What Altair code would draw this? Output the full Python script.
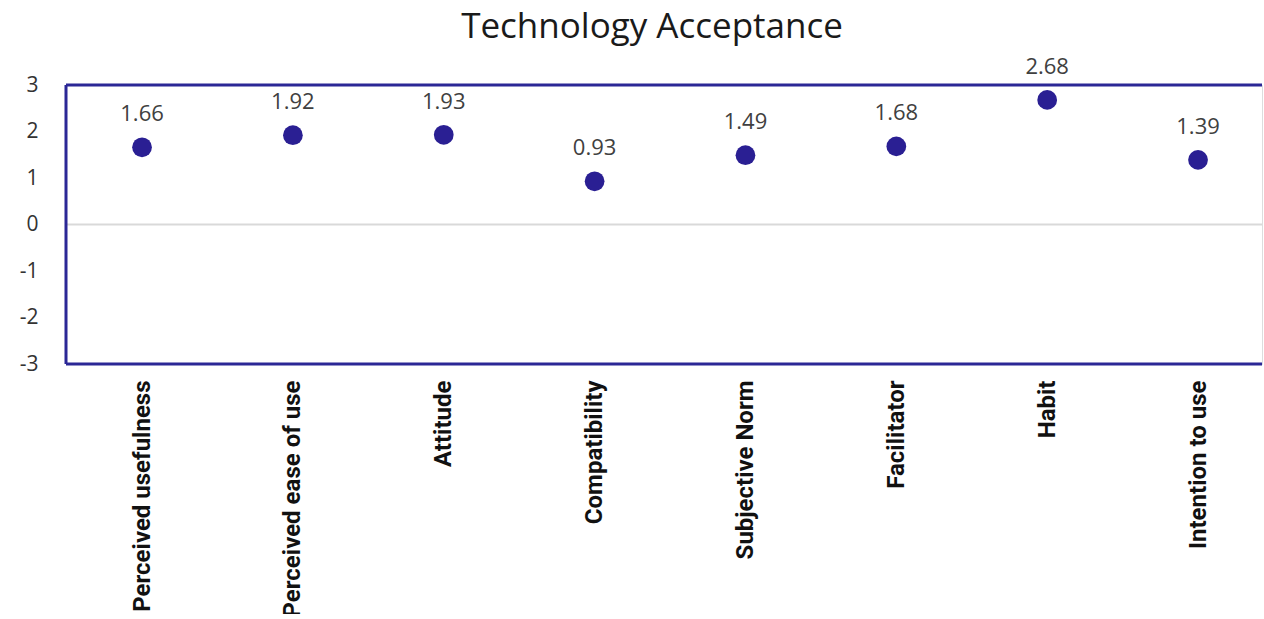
import altair as alt
import pandas as pd

categories = ["Perceived usefulness", "Perceived ease of use", "Attitude", "Compatibility",
              "Subjective Norm", "Facilitator", "Habit", "Intention to use"]
values = [1.66, 1.92, 1.93, 0.93, 1.49, 1.68, 2.68, 1.39]
y_ticks = [-3, -2, -1, 0, 1, 2, 3]

df = pd.DataFrame({"idx": list(range(len(categories))), "cat": categories, "val": values})

X_MIN, X_MAX = -0.504, 7.424
label_expr = "[" + ",".join("'" + c + "'" for c in categories) + "][datum.value]"

xs = alt.Scale(domain=[X_MIN, X_MAX], nice=False, zero=False)
ys = alt.Scale(domain=[-3, 3], nice=False, zero=False)

NAVY = "#2b2796"
PT = "#2a1f93"

base = alt.Chart(df)

points = base.mark_circle(size=390, color=PT, opacity=1).encode(
    x=alt.X("idx:Q", scale=xs, title=None,
            axis=alt.Axis(values=list(range(len(categories))), labelExpr=label_expr,
                          labelAngle=-90, labelAlign="right", labelBaseline="middle",
                          labelPadding=16, ticks=False, domain=False, grid=False,
                          labelFont="Roboto", labelFontWeight="bold",
                          labelFontSize=24, labelColor="#111111", labelOverlap=False,
                          labelLimit=400)),
    y=alt.Y("val:Q", scale=ys, title=None,
            axis=alt.Axis(values=y_ticks, ticks=False, domain=False, grid=False,
                          labelExpr="'' + datum.value",
                          labelPadding=28, labelFont="Open Sans", labelFontSize=21,
                          labelColor="#333333")),
)

labels = base.mark_text(dy=-33, fontSize=22, font="Open Sans", color="#404040").encode(
    x=alt.X("idx:Q", scale=xs),
    y=alt.Y("val:Q", scale=ys),
    text=alt.Text("val:Q", format=".2f"),
)

zero = alt.Chart(pd.DataFrame({"y": [0]})).mark_rule(color="#d9d9d9", strokeWidth=2).encode(
    y=alt.Y("y:Q", scale=ys))

frame_h = alt.Chart(pd.DataFrame({"y": [3, -3]})).mark_rule(color=NAVY, strokeWidth=3).encode(
    y=alt.Y("y:Q", scale=ys))
frame_v = alt.Chart(pd.DataFrame({"x": [X_MIN]})).mark_rule(color=NAVY, strokeWidth=3).encode(
    x=alt.X("x:Q", scale=xs))

chart = alt.layer(zero, frame_h, frame_v, points, labels).properties(
    width=1196, height=279,
    title=alt.TitleParams("Technology Acceptance", font="Open Sans", fontSize=35,
                          fontWeight="normal", color="#1a1a1a", offset=-17, dx=-12,
                          frame="group", baseline="alphabetic"),
    autosize=alt.AutoSizeParams(type="none"),
    padding={"left": 66, "top": 85, "right": 2, "bottom": 250},
).configure_view(stroke=None).configure(background="white")

chart.save("out.html", embed_options={"renderer": "svg", "actions": False})
